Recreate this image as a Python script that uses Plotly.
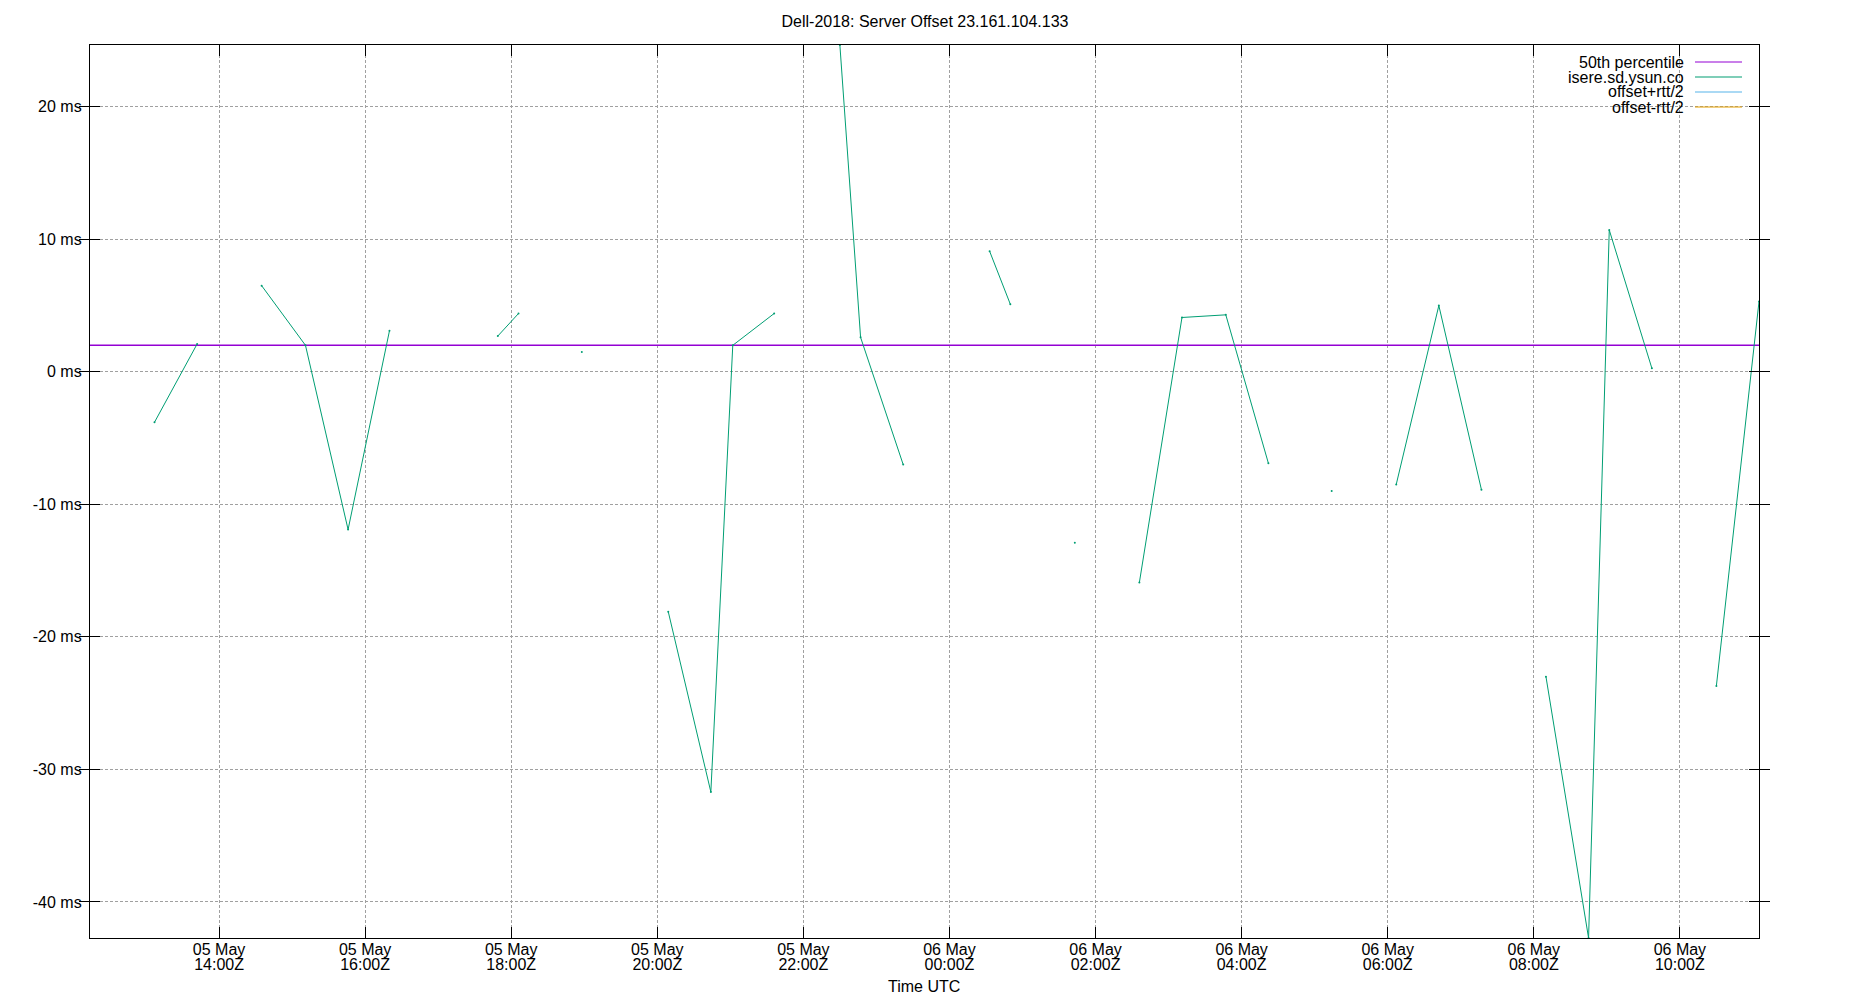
import plotly.graph_objects as go

# ---------------- data ----------------
title_text = "Dell-2018: Server Offset 23.161.104.133"
server_name = "isere.sd.ysun.co"

offset_times = [
    "2024-05-05 13:07", "2024-05-05 13:42", None,
    "2024-05-05 14:35", "2024-05-05 15:11", "2024-05-05 15:46", "2024-05-05 16:20", None,
    "2024-05-05 17:49", "2024-05-05 18:06", None,
    "2024-05-05 18:58", None,
    "2024-05-05 20:09", "2024-05-05 20:44", "2024-05-05 21:02", "2024-05-05 21:36", None,
    "2024-05-05 22:30", "2024-05-05 22:47", "2024-05-05 23:22", None,
    "2024-05-06 00:33", "2024-05-06 00:50", None,
    "2024-05-06 01:43", None,
    "2024-05-06 02:36", "2024-05-06 03:11", "2024-05-06 03:47", "2024-05-06 04:22", None,
    "2024-05-06 05:14", None,
    "2024-05-06 06:07", "2024-05-06 06:42", "2024-05-06 07:17", None,
    "2024-05-06 08:10", "2024-05-06 08:45", "2024-05-06 09:02", "2024-05-06 09:37", None,
    "2024-05-06 10:30", "2024-05-06 11:05",
]
offset_ms = [
    -3.8, 2.1, None,
    6.5, 2.0, -11.9, 3.1, None,
    2.7, 4.4, None,
    1.5, None,
    -18.1, -31.7, 2.0, 4.4, None,
    24.66, 2.6, -7.0, None,
    9.1, 5.1, None,
    -12.9, None,
    -15.9, 4.1, 4.3, -6.9, None,
    -9.0, None,
    -8.5, 5.0, -8.9, None,
    -23.0, -42.72, 10.7, 0.27, None,
    -23.7, 5.3,
]

percentile_50 = 2.0
x_range = ["2024-05-05 12:14", "2024-05-06 11:05"]
y_range = [-42.72, 24.66]

x_tickvals = ["2024-05-05 14:00", "2024-05-05 16:00", "2024-05-05 18:00", "2024-05-05 20:00",
              "2024-05-05 22:00", "2024-05-06 00:00", "2024-05-06 02:00", "2024-05-06 04:00",
              "2024-05-06 06:00", "2024-05-06 08:00", "2024-05-06 10:00"]
x_ticktext_date = ["05 May", "05 May", "05 May", "05 May", "05 May", "06 May",
                   "06 May", "06 May", "06 May", "06 May", "06 May"]
x_ticktext_time = ["14:00Z", "16:00Z", "18:00Z", "20:00Z", "22:00Z", "00:00Z",
                   "02:00Z", "04:00Z", "06:00Z", "08:00Z", "10:00Z"]
y_tickvals = [-40, -30, -20, -10, 0, 10, 20]
y_ticktext = ["-40 ms", "-30 ms", "-20 ms", "-10 ms", "0 ms", "10 ms", "20 ms"]

legend_names = ["50th percentile", server_name, "offset+rtt/2", "offset-rtt/2"]
legend_colors = ["#9400d3", "#009e73", "#56b4e9", "#e69f00"]

FONT = "Liberation Sans, Arial, sans-serif"
W, H = 1850, 1000
ML, MR, MT, MB = 90, 91, 45, 62

# ---------------- figure ----------------
fig = go.Figure()

fig.add_trace(go.Scatter(
    x=x_range, y=[percentile_50, percentile_50], mode="lines",
    line=dict(color=legend_colors[0], width=1.5), name=legend_names[0],
    showlegend=False, hoverinfo="skip"))

fig.add_trace(go.Scatter(
    x=offset_times, y=offset_ms, mode="lines+markers",
    line=dict(color=legend_colors[1], width=1),
    marker=dict(color=legend_colors[1], size=2),
    name=legend_names[1], connectgaps=False, showlegend=False))

fig.add_trace(go.Scatter(x=[], y=[], mode="lines", line=dict(color=legend_colors[2], width=1),
                         name=legend_names[2], showlegend=False))
fig.add_trace(go.Scatter(x=[], y=[], mode="lines", line=dict(color=legend_colors[3], width=1),
                         name=legend_names[3], showlegend=False))
# dummy trace to anchor the second (time-of-day) label axis
fig.add_trace(go.Scatter(x=[], y=[], xaxis="x2", showlegend=False, hoverinfo="skip"))

grid_style = dict(showgrid=True, gridcolor="#a0a0a0", gridwidth=1, griddash="3px,2px")

fig.update_layout(
    width=W, height=H,
    margin=dict(l=ML, r=MR, t=MT, b=MB),
    paper_bgcolor="white", plot_bgcolor="white",
    font=dict(family=FONT, size=16, color="black"),
    title=dict(text=title_text, x=0.5, xref="container", xanchor="center",
               y=1 - 21 / H, yref="container", yanchor="middle",
               font=dict(family=FONT, size=16, color="black")),
    showlegend=False,
    xaxis=dict(
        type="date", range=x_range, tickvals=x_tickvals, ticktext=x_ticktext_date,
        ticks="inside", ticklen=11, tickwidth=1, tickcolor="black",
        showline=True, linecolor="black", linewidth=1.2, mirror="allticks",
        zeroline=False, ticklabelstandoff=-3, **grid_style),
    xaxis2=dict(
        type="date", range=x_range, overlaying="x", side="bottom", anchor="y",
        tickvals=x_tickvals, ticktext=x_ticktext_time, ticks="", showline=False,
        showgrid=False, zeroline=False, ticklabelstandoff=15),
    yaxis=dict(
        range=y_range, tickvals=y_tickvals, ticktext=y_ticktext,
        ticks="inside", ticklen=10, tickwidth=1, tickcolor="black",
        showline=True, linecolor="black", linewidth=1.2, mirror="allticks",
        zeroline=False, ticklabelstandoff=4, **grid_style),
)

# x-axis title
plot_h = H - MT - MB
fig.add_annotation(text="Time UTC", xref="paper", yref="paper", x=0.4997,
                   y=-(986.5 - (H - MB)) / plot_h, xanchor="center", yanchor="middle",
                   showarrow=False, font=dict(family=FONT, size=16, color="black"))

# gnuplot-style key: right aligned text with line sample on the right
plot_w = W - ML - MR
key_text_x = (1686 - ML) / plot_w
key_line_x0 = (1695 - ML) / plot_w
key_line_x1 = (1742 - ML) / plot_w
key_row0 = 62.0
key_step = 15.0
for i, (name, col) in enumerate(zip(legend_names, legend_colors)):
    yy = 1 - (key_row0 + i * key_step - MT) / plot_h
    fig.add_annotation(text=name, xref="paper", yref="paper", x=key_text_x, y=yy,
                       xanchor="right", yanchor="middle", showarrow=False,
                       font=dict(family=FONT, size=16, color="black"))
    fig.add_shape(type="line", xref="paper", yref="paper", x0=key_line_x0, x1=key_line_x1,
                  y0=yy, y1=yy, line=dict(color=col, width=1.2))

fig.write_html("out.html", config={"displayModeBar": False},
               post_script="document.body.style.margin='0';")
